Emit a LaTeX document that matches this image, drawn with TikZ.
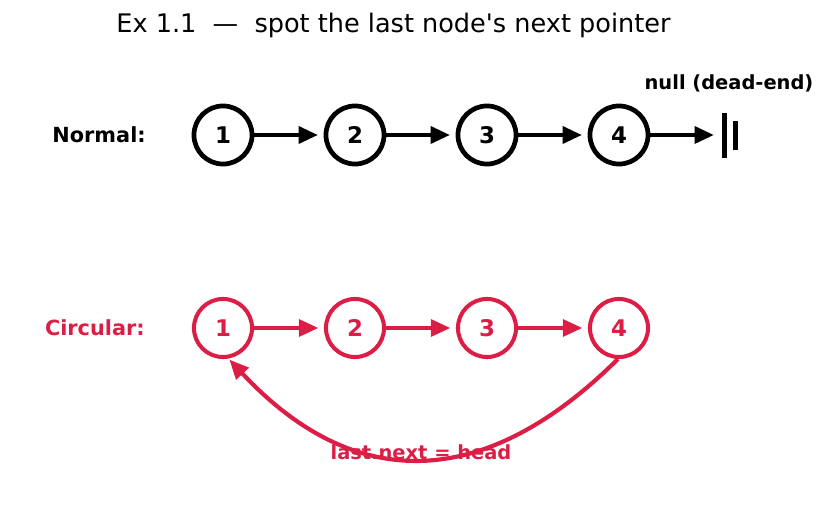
\documentclass[tikz,border=0pt]{standalone}
\usepackage{fontspec}
\setmainfont{DejaVu Sans}
\usetikzlibrary{arrows.meta}
\definecolor{crim}{RGB}{220,30,70}
\tikzset{
  lnode/.style={circle, draw, line width=3.4pt, minimum size=41.8pt, inner sep=0pt,
    font=\fontsize{16.5}{18}\selectfont\bfseries},
  rnode/.style={lnode, draw=crim, text=crim, line width=2.9pt},
  larr/.style={line width=3.2pt, -{Triangle[length=14pt,width=12pt]}, shorten >=4pt},
  rarr/.style={line width=2.8pt, draw=crim, -{Triangle[length=14pt,width=12pt]}, shorten >=4pt},
  rowlab/.style={anchor=east, inner sep=0pt, font=\fontsize{15}{18}\selectfont\bfseries},
  nullbar/.style={line width=3.6pt}
}
\begin{document}
\begin{tikzpicture}[x=0.72pt, y=-0.72pt]
\useasboundingbox (0,0) rectangle (827,512);
\node[font=\fontsize{18.4}{22}\selectfont] (title) at (393.5,25) {Ex 1.1\ \ —\ \ spot the last node\textquotesingle s next pointer};

\node[rowlab] (lnorm) at (146,135) {Normal:};
\node[rowlab, text=crim] (lcirc) at (145,328) {Circular:};

\foreach \i/\x in {1/223,2/355,3/487,4/619} {
  \node[lnode] (n\i) at (\x,135) {\i};
  \node[rnode] (c\i) at (\x,328) {\i};
}
\foreach \a/\b in {1/2,2/3,3/4} {
  \draw[larr] (n\a) -- (n\b);
  \draw[rarr] (c\a) -- (c\b);
}
\coordinate (nullpt) at (714,135);
\draw[larr, shorten >=0pt] (n4) -- (nullpt);
\coordinate (b1t) at (724,113); \coordinate (b1b) at (724,158);
\coordinate (b2t) at (735.5,121); \coordinate (b2b) at (735.5,150);
\draw[nullbar] (b1t) -- (b1b);
\draw[nullbar] (b2t) -- (b2b);
\node[font=\fontsize{14}{16}\selectfont\bfseries] (nulllab) at (729,83) {null (dead-end)};

\node[font=\fontsize{14}{16}\selectfont\bfseries, text=crim] (lastlab) at (421,452) {last.next = head};
\draw[line width=3pt, draw=crim, -{Triangle[length=14pt,width=12pt]}, shorten >=1pt]
  (c4.-92) .. controls (484,492) and (354,493) .. (c1.-80);
\end{tikzpicture}
\end{document}
